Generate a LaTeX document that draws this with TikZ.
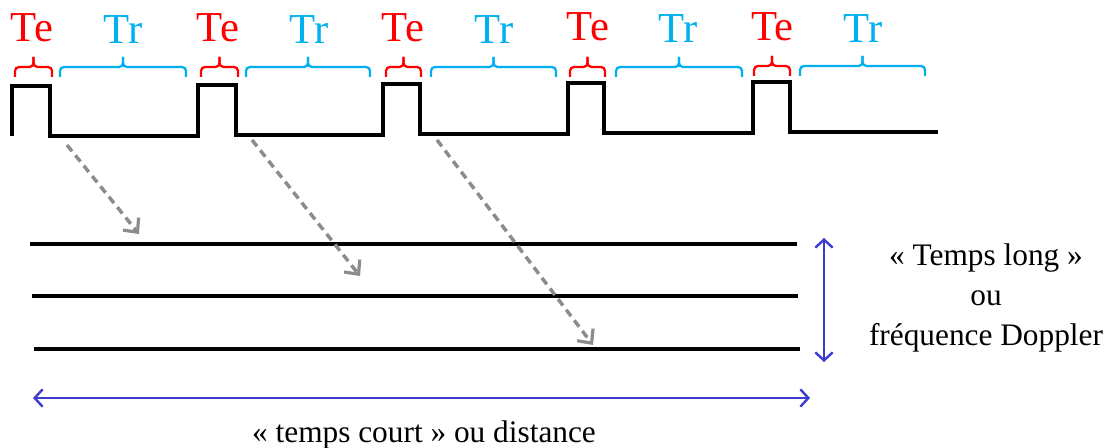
\documentclass[tikz,border=0pt]{standalone}
\usepackage{fontspec}
\setmainfont{Liberation Serif}
\usetikzlibrary{arrows.meta}
\definecolor{teRed}{RGB}{255,0,0}
\definecolor{trBlue}{RGB}{0,176,240}
\definecolor{axBlue}{RGB}{60,60,205}
\definecolor{dashGray}{RGB}{140,140,140}
\newcommand{\ppbrace}[4]{%
  \draw[bracebase,#4] (#1,#3) -- (#1,#3-10) -- ({(#1+#2)/2},#3-10) -- ({(#1+#2)/2},#3-20);
  \draw[bracebase,#4] (#2,#3) -- (#2,#3-10) -- ({(#1+#2)/2},#3-10) -- ({(#1+#2)/2},#3-20);}
\begin{document}
\begin{tikzpicture}[x=0.75pt,y=-0.75pt,
  pulse/.style={line width=2.6pt,black,line join=miter},
  rowline/.style={line width=2.6pt,black},
  bracebase/.style={line width=1.7pt,rounded corners=3pt},
  telabel/.style={text=teRed,font=\fontsize{32}{36}\selectfont,anchor=base,inner sep=0pt},
  trlabel/.style={text=trBlue,font=\fontsize{32}{36}\selectfont,anchor=base,inner sep=0pt},
  echo/.style={dashGray,line width=2.6pt,dash pattern=on 6pt off 4pt,-{Straight Barb[length=8pt,width=15pt,line width=2.4pt]}},
  axis/.style={axBlue,line width=1.8pt,{Straight Barb[length=6pt,width=13pt]}-{Straight Barb[length=6pt,width=13pt]}},
  caption/.style={font=\fontsize{23.5}{28}\selectfont,align=center,inner sep=0pt}]
\useasboundingbox (0,0) rectangle (1116,448);

% pulse train
\draw[pulse] (12,136) -- (12,86) -- (50,86) -- (50,136) -- (198,136) -- (198,85) -- (236,85) -- (236,135)
  -- (383,135) -- (383,84) -- (420,84) -- (420,134) -- (568,134) -- (568,83) -- (604,83) -- (604,133)
  -- (753,133) -- (753,82) -- (790,82) -- (790,132) -- (938,132);

% braces
\ppbrace{15}{52}{77}{teRed}
\ppbrace{201}{238}{77}{teRed}
\ppbrace{386}{421}{77}{teRed}
\ppbrace{570}{605}{77}{teRed}
\ppbrace{754}{790}{76}{teRed}
\ppbrace{60}{186}{77}{trBlue}
\ppbrace{246}{370}{77}{trBlue}
\ppbrace{431}{556}{77}{trBlue}
\ppbrace{616}{742}{77}{trBlue}
\ppbrace{800}{925}{76}{trBlue}

% labels
\node[telabel] (te1) at (32,42) {Te};
\node[telabel] (te2) at (218,42) {Te};
\node[telabel] (te3) at (403,42) {Te};
\node[telabel] (te4) at (588,41) {Te};
\node[telabel] (te5) at (772,41) {Te};
\node[trlabel] (tr1) at (123,44) {Tr};
\node[trlabel] (tr2) at (309,44) {Tr};
\node[trlabel] (tr3) at (494,44) {Tr};
\node[trlabel] (tr4) at (678,43) {Tr};
\node[trlabel] (tr5) at (863,43) {Tr};

% rows
\coordinate (r1a) at (30,244); \coordinate (r1b) at (797,244);
\coordinate (r2a) at (32,296); \coordinate (r2b) at (798,296);
\coordinate (r3a) at (34,349); \coordinate (r3b) at (800,349);
\draw[rowline] (r1a) -- (r1b);
\draw[rowline] (r2a) -- (r2b);
\draw[rowline] (r3a) -- (r3b);

% echo arrows
\coordinate (e1s) at (67,145); \coordinate (e1e) at (139,234);
\coordinate (e2s) at (252,140); \coordinate (e2e) at (360,276);
\coordinate (e3s) at (437,140); \coordinate (e3e) at (593,345);
\draw[echo] (e1s) -- (e1e);
\draw[echo] (e2s) -- (e2e);
\draw[echo] (e3s) -- (e3e);

% axes
\coordinate (vtop) at (824,238); \coordinate (vbot) at (824,362);
\draw[axis] (vtop) -- (vbot);
\coordinate (hl) at (33,398); \coordinate (hr) at (810,398);
\draw[axis] (hl) -- (hr);

\node[caption] (longtime) at (986,298) {« Temps long »\\[2pt]ou\\[2pt]fréquence Doppler};
\node[caption] (shorttime) at (424,435) {« temps court » ou distance};
\end{tikzpicture}
\end{document}
